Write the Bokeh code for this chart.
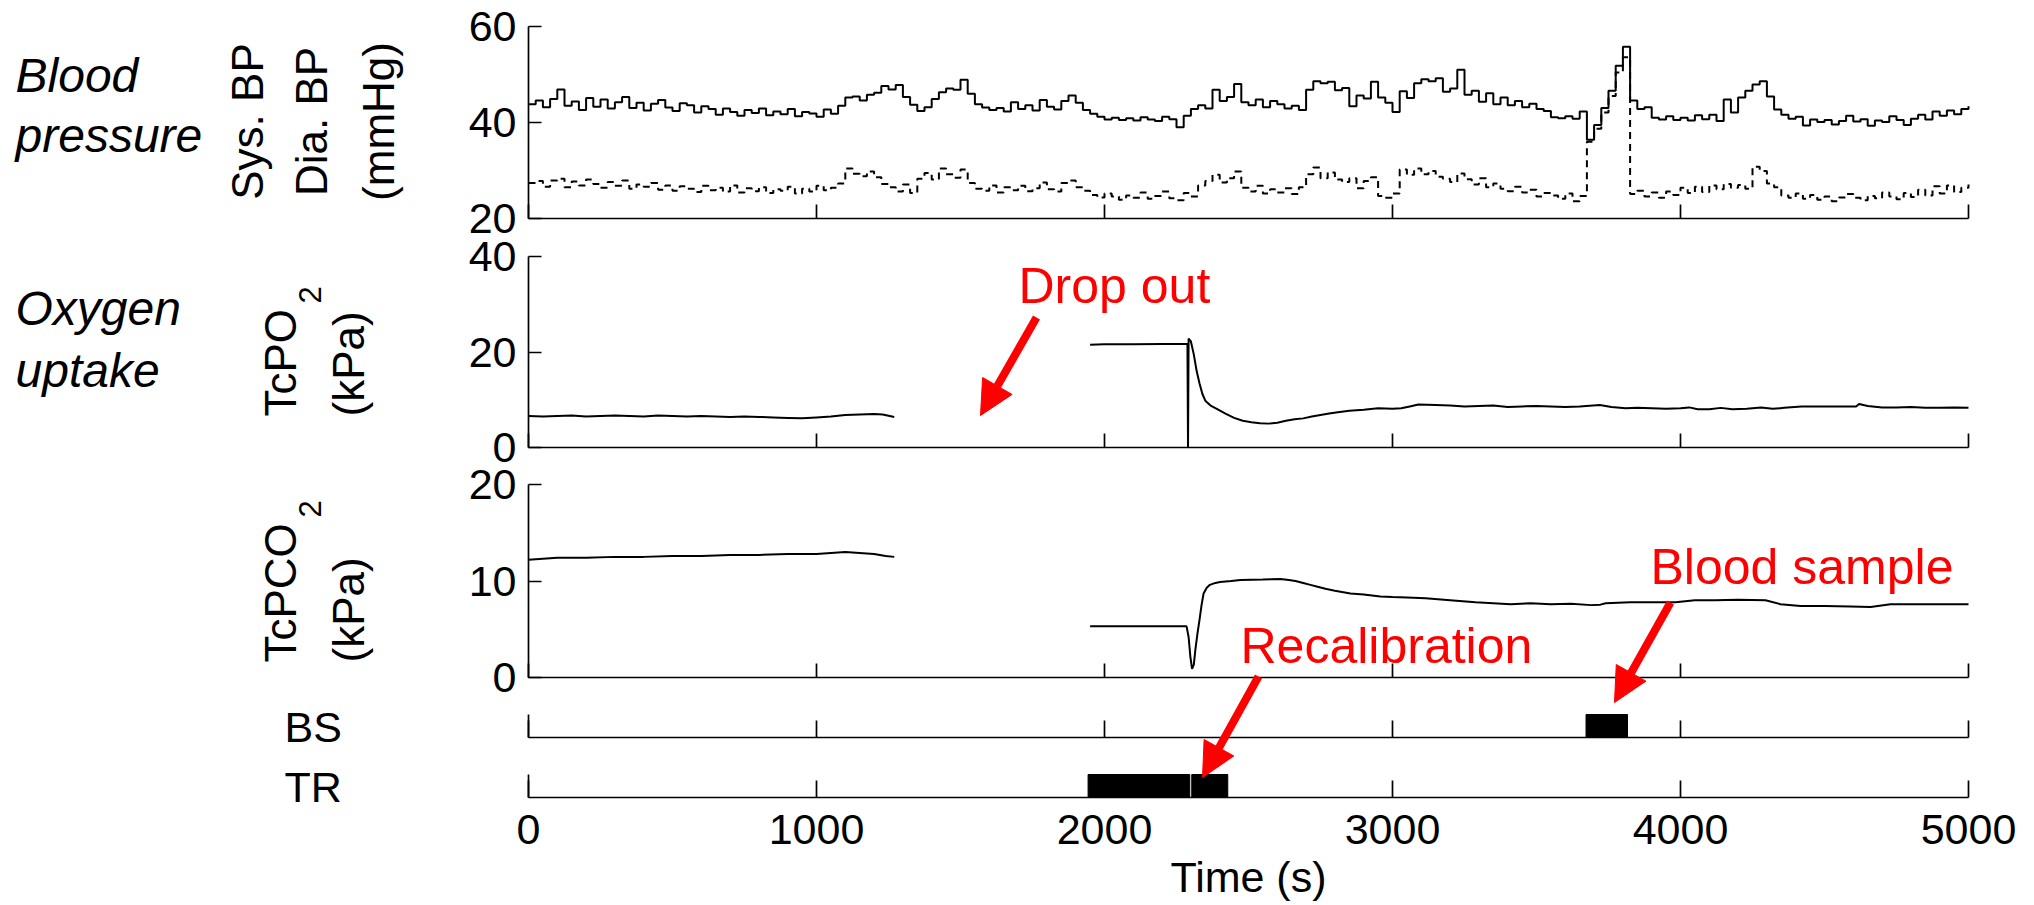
import numpy as np
from bokeh.plotting import figure
from bokeh.models import Range1d, LinearAxis, FixedTicker, Label, Arrow, NormalHead
from bokeh.embed import file_html
from bokeh.resources import INLINE

# ---------------- data ----------------
BP_T = list(range(0, 5001, 25))  # sampling times (s)
SYS_BP = [
    43.8, 44.6, 43.2, 44.9, 46.9, 43.5, 44.4, 42.6, 45.1, 43.3,
    44.8, 42.9, 44.2, 45.3, 43.0, 44.1, 42.5, 43.9, 44.7, 43.1,
    42.4, 44.0, 43.6, 42.1, 43.4, 42.8, 41.6, 42.9, 42.2, 41.4,
    42.6, 42.0, 42.9, 41.5, 42.3, 41.7, 42.8, 41.3, 42.2, 41.9,
    41.2, 42.7, 41.8, 43.5, 45.2, 45.4, 44.6, 45.8, 46.2, 47.6,
    46.9, 47.8, 45.3, 43.7, 42.4, 43.2, 44.9, 46.3, 47.1, 46.8,
    48.9, 46.0, 43.8, 43.1, 42.6, 43.0, 42.3, 44.2, 42.8, 43.6,
    42.5, 44.7, 43.3, 42.7, 44.5, 45.6, 44.1, 42.6, 41.8, 41.2,
    40.6, 41.0, 40.5, 40.9, 40.4, 41.1, 40.6, 40.3, 41.2, 40.7,
    39.0, 41.4, 42.8, 43.6, 42.9, 46.8, 44.5, 45.3, 48.0, 44.2,
    43.6, 44.8, 43.2, 44.5, 43.8, 42.9, 43.5, 42.6, 46.8, 48.6,
    48.2, 48.5, 46.7, 47.2, 43.4, 45.6, 45.0, 48.5, 45.2, 44.1,
    42.2, 46.5, 45.1, 48.2, 49.0, 48.6, 49.2, 46.4, 47.1, 51.0,
    45.8, 46.6, 44.3, 46.1, 43.8, 45.2, 43.6, 44.5, 43.2, 43.9,
    42.8, 42.4, 41.1, 40.9, 41.3, 40.8, 42.3, 36.4, 39.5, 43.0,
    46.6, 51.8, 55.8, 44.6, 42.8, 43.2, 41.0, 40.6, 41.3, 40.5,
    41.0, 40.4, 41.5, 40.7, 41.6, 40.3, 44.8, 42.1, 45.2, 46.6,
    47.9, 48.6, 45.4, 42.7, 41.6, 40.8, 41.2, 39.4, 40.6, 40.1,
    40.5, 39.6, 40.3, 41.4, 40.2, 40.7, 39.3, 40.4, 40.1, 41.3,
    40.5, 39.5, 40.8, 41.6, 40.6, 42.3, 41.4, 42.5, 41.7, 42.8,
    43.4]
DIA_BP = [
    27.4, 27.8, 26.6, 27.9, 28.3, 26.5, 27.7, 26.9, 28.1, 27.2,
    26.4, 27.6, 26.8, 27.9, 26.2, 27.1, 26.6, 27.4, 26.0, 26.9,
    25.8, 26.7, 26.2, 25.5, 26.8, 25.9, 26.4, 25.6, 26.9, 25.4,
    26.3, 25.7, 26.5, 25.3, 26.1, 25.8, 26.6, 25.2, 26.2, 25.6,
    26.8, 25.9, 26.4, 27.3, 30.4, 29.3, 28.8, 29.8, 28.6, 27.2,
    26.5, 25.6, 27.1, 25.3, 28.3, 29.5, 28.1, 30.4, 29.2, 28.5,
    30.2, 27.4, 26.2, 25.8, 26.9, 25.4, 26.5, 25.9, 26.8, 25.7,
    26.3, 27.5, 26.1, 25.6, 27.4, 27.9, 26.5, 25.8, 24.9, 24.4,
    25.2, 24.6, 23.9, 24.8, 24.3, 25.4, 24.1, 24.7, 25.6, 24.2,
    23.8, 25.3, 24.6, 26.9, 27.8, 29.1, 27.5, 28.4, 29.8, 26.4,
    25.6, 26.8, 25.2, 26.1, 25.4, 26.3, 25.1, 26.5, 29.2, 30.6,
    28.4, 29.6, 28.1, 27.6, 28.4, 26.3, 27.8, 28.6, 24.7, 24.3,
    25.2, 30.2, 29.1, 30.4, 29.2, 29.9, 28.7, 28.3, 27.6, 29.4,
    28.2, 27.1, 28.4, 26.5, 27.3, 26.2, 25.7, 26.6, 25.4, 26.0,
    24.6, 25.3, 24.8, 24.1, 25.2, 23.6, 24.7, 36.0, 38.7, 42.1,
    45.5, 50.4, 53.6, 25.1, 25.8, 24.6, 25.4, 24.3, 25.6, 24.9,
    26.4, 25.3, 26.6, 25.5, 26.9, 26.1, 27.2, 26.4, 27.0, 26.2,
    30.8, 29.9, 27.3, 26.5, 24.8, 24.3, 25.2, 24.1, 24.9, 23.9,
    24.6, 23.6, 24.4, 25.1, 24.3, 23.8, 24.7, 24.2, 25.4, 24.6,
    24.0, 25.3, 24.5, 26.0, 24.8, 26.7, 25.2, 26.9, 25.5, 26.4,
    27.1]

PO2_T1 = [0, 50, 100, 150, 200, 250, 300, 350, 400, 450, 500, 550, 600, 650,
          700, 750, 800, 850, 900, 950, 1000, 1050, 1100, 1150, 1200, 1230, 1270]
PO2_V1 = [6.6, 6.5, 6.6, 6.7, 6.5, 6.6, 6.7, 6.6, 6.5, 6.7, 6.6, 6.5, 6.6, 6.5,
          6.4, 6.5, 6.4, 6.3, 6.2, 6.1, 6.3, 6.5, 6.8, 6.9, 7.0, 6.9, 6.4]
PO2_T2 = [1950, 2000, 2100, 2200, 2280, 2288, 2290, 2292, 2300, 2310, 2320, 2330,
          2340, 2350, 2370, 2390, 2420, 2450, 2480, 2510, 2540, 2570, 2600, 2630,
          2660, 2690, 2720, 2750, 2780, 2810, 2850, 2900, 2950, 3000, 3030, 3060,
          3090, 3150, 3200, 3250, 3300, 3350, 3400, 3450, 3500, 3550, 3600, 3650,
          3720, 3760, 3810, 3850, 3900, 3950, 4000, 4030, 4060, 4100, 4140, 4180,
          4230, 4280, 4320, 4360, 4420, 4500, 4560, 4610, 4620, 4650, 4700, 4750,
          4800, 4850, 4900, 4950, 5000]
PO2_V2 = [21.5, 21.6, 21.6, 21.7, 21.7, 21.7, 0.0, 22.8, 22.2, 19.5, 16.0, 13.4,
          11.2, 9.8, 8.7, 8.1, 7.1, 6.2, 5.6, 5.3, 5.1, 5.0, 5.2, 5.6,
          5.9, 6.1, 6.5, 6.8, 7.1, 7.4, 7.7, 7.9, 8.2, 8.1, 8.2, 8.6,
          9.0, 8.9, 8.8, 8.6, 8.7, 8.8, 8.5, 8.6, 8.7, 8.6, 8.5, 8.6,
          8.9, 8.5, 8.2, 8.3, 8.2, 8.1, 8.2, 8.4, 8.0, 8.0, 8.3, 8.0,
          8.1, 8.4, 8.1, 8.3, 8.6, 8.6, 8.6, 8.6, 9.1, 8.7, 8.4, 8.4,
          8.5, 8.3, 8.3, 8.4, 8.3]

PCO2_T1 = [0, 50, 100, 200, 300, 400, 500, 600, 700, 800, 900, 1000, 1050,
           1100, 1150, 1200, 1240, 1270]
PCO2_V1 = [12.2, 12.3, 12.4, 12.4, 12.5, 12.5, 12.6, 12.6, 12.7, 12.7, 12.8, 12.8,
           12.9, 13.0, 12.9, 12.8, 12.6, 12.5]
PCO2_T2 = [1950, 2100, 2200, 2285, 2292, 2298, 2304, 2310, 2316, 2323, 2330, 2337,
           2344, 2355, 2366, 2385, 2401, 2440, 2472, 2550, 2611, 2640, 2663, 2690,
           2715, 2740, 2767, 2800, 2854, 2900, 2958, 3000, 3050, 3115, 3200, 3288,
           3350, 3410, 3480, 3549, 3620, 3690, 3722, 3740, 3826, 3900, 3983, 4050,
           4121, 4200, 4295, 4347, 4417, 4500, 4590, 4660, 4729, 4850, 5000]
PCO2_V2 = [5.3, 5.3, 5.3, 5.3, 4.2, 2.2, 0.9, 1.3, 3.0, 4.6, 6.0, 7.5,
           8.7, 9.3, 9.6, 9.8, 9.9, 10.0, 10.1, 10.15, 10.2, 10.1, 10.0, 9.8,
           9.6, 9.4, 9.2, 9.0, 8.7, 8.6, 8.4, 8.35, 8.3, 8.2, 8.0, 7.8,
           7.7, 7.6, 7.7, 7.6, 7.65, 7.5, 7.55, 7.7, 7.8, 7.8, 7.8, 8.0,
           8.0, 8.05, 8.0, 7.6, 7.4, 7.4, 7.35, 7.3, 7.6, 7.6, 7.6]

BS_START, BS_END = [3672], [3816]
TR_START, TR_END = [1943, 2303], [2296, 2428]

X_TICKS = [0, 1000, 2000, 3000, 4000, 5000]
BP_TICKS = [20, 40, 60]
PO2_TICKS = [0, 20, 40]
PCO2_TICKS = [0, 10, 20]

# ---------------- layout (page pixels) ----------------
W, H = 2030, 903
PX0, PY0 = 0, 0
AX_X0, AX_X1 = 528, 1968
sx = (AX_X1 - AX_X0) / 5000.0
x_start = 0 - (AX_X0 - PX0) / sx
x_end = 5000 + (PX0 + W - AX_X1) / sx


def yrange(v_top, y_top, v_bot, y_bot):
    s = (v_top - v_bot) / (y_bot - y_top)
    return Range1d(start=v_bot - (PY0 + H - y_bot) * s, end=v_top + (y_top - PY0) * s)


FONT = "Liberation Sans"

p = figure(width=W, height=H, x_range=Range1d(x_start, x_end),
           y_range=Range1d(PY0 + H, PY0), output_backend="svg",
           toolbar_location=None, x_axis_location=None, y_axis_location=None,
           min_border=0, min_border_left=0, min_border_right=0,
           min_border_top=0, min_border_bottom=0, outline_line_color=None)
p.xgrid.grid_line_color = None
p.ygrid.grid_line_color = None
p.background_fill_color = "white"

p.extra_x_ranges = {"px": Range1d(PX0, PX0 + W)}
p.extra_y_ranges = {
    "bp": yrange(60, 26, 20, 218),
    "po2": yrange(40, 256, 0, 447),
    "pco2": yrange(20, 484, 0, 677),
    "bs": yrange(1, 714, 0, 737),
    "tr": yrange(1, 774, 0, 797),
}

LW = 2.0
# traces
p.step(BP_T, SYS_BP, mode="after", y_range_name="bp", line_color="black", line_width=LW)
p.step(BP_T, DIA_BP, mode="after", y_range_name="bp", line_color="black", line_width=LW,
       line_dash="7 5")
p.line(PO2_T1, PO2_V1, y_range_name="po2", line_color="black", line_width=LW)
p.line(PO2_T2, PO2_V2, y_range_name="po2", line_color="black", line_width=LW)
p.line(PCO2_T1, PCO2_V1, y_range_name="pco2", line_color="black", line_width=LW)
p.line(PCO2_T2, PCO2_V2, y_range_name="pco2", line_color="black", line_width=LW)
p.quad(left=BS_START, right=BS_END, bottom=0, top=1, y_range_name="bs",
       fill_color="black", line_color="black")
p.quad(left=TR_START, right=TR_END, bottom=0, top=1, y_range_name="tr",
       fill_color="black", line_color="black")


def style_axis(ax, tick_in):
    ax.major_tick_in = tick_in
    ax.major_tick_out = 0
    ax.minor_tick_line_color = None
    ax.axis_line_width = 1.7
    ax.major_tick_line_width = 1.7
    ax.axis_line_color = "black"
    ax.major_tick_line_color = "black"
    ax.major_label_text_font = FONT
    ax.major_label_text_font_size = "43px"
    ax.major_label_text_color = "black"


# x axes (one per panel)
for name, loc, tin in [("bp", 20, 14), ("po2", 0, 14), ("pco2", 0, 14), ("bs", 0, 17)]:
    ax = LinearAxis(y_range_name=name, fixed_location=loc, bounds=(0, 5000),
                    ticker=FixedTicker(ticks=X_TICKS, minor_ticks=[]))
    style_axis(ax, tin)
    ax.major_label_text_color = None
    p.add_layout(ax, "below")

ax = LinearAxis(y_range_name="tr", fixed_location=0, bounds=(0, 5000),
                ticker=FixedTicker(ticks=X_TICKS, minor_ticks=[]),
                axis_label="Time (s)")
style_axis(ax, 17)
ax.major_label_standoff = 17
ax.axis_label_standoff = 6
ax.axis_label_text_font = FONT
ax.axis_label_text_font_size = "43px"
ax.axis_label_text_font_style = "normal"
ax.axis_label_text_color = "black"
p.add_layout(ax, "below")

# y axes
for name, lo, hi, ticks in [("bp", 20, 60, BP_TICKS), ("po2", 0, 40, PO2_TICKS),
                            ("pco2", 0, 20, PCO2_TICKS), ("bs", 0, 1, []), ("tr", 0, 1, [])]:
    ay = LinearAxis(y_range_name=name, fixed_location=0, bounds=(lo, hi),
                    ticker=FixedTicker(ticks=ticks, minor_ticks=[]))
    style_axis(ay, 13)
    ay.major_label_standoff = 12
    p.add_layout(ay, "left")


def lab(text, x, y, size, style="normal", color="black", angle=0.0, align="left"):
    p.add_layout(Label(x=x, y=y, x_range_name="px", text=text, text_font=FONT,
                       text_font_size=f"{size}px", text_font_style=style,
                       text_color=color, angle=angle, text_align=align,
                       text_baseline="middle"))


ROT = np.pi / 2
# row titles (anchor = vertical centre of the text)
lab("Blood", 15, 75, 48, "italic")
lab("pressure", 15, 135, 48, "italic")
lab("Oxygen", 15, 308, 48, "italic")
lab("uptake", 15, 370, 48, "italic")
# rotated y labels
lab("Sys. BP", 247, 121, 44, angle=ROT, align="center")
lab("Dia. BP", 311, 121, 44, angle=ROT, align="center")
lab("(mmHg)", 378, 121, 44, angle=ROT, align="center")
lab("TcPO", 280, 416, 44, angle=ROT)
lab("2", 309, 303, 31, angle=ROT)
lab("(kPa)", 348, 416, 44, angle=ROT)
lab("TcPCO", 280, 662, 44, angle=ROT)
lab("2", 309, 517, 31, angle=ROT)
lab("(kPa)", 348, 662, 44, angle=ROT)
lab("BS", 284, 726, 43)
lab("TR", 284, 786, 43)

# red annotations
lab("Drop out", 1018, 285, 50, color="red")
lab("Recalibration", 1240, 645, 50, color="red")
lab("Blood sample", 1650, 566, 50, color="red")

for (x0, y0, x1, y1) in [(1036, 317, 980, 415), (1258, 676, 1202, 777), (1670, 602, 1614, 702)]:
    p.add_layout(Arrow(end=NormalHead(size=34, fill_color="red", line_color="red"),
                       x_start=x0, y_start=y0, x_end=x1, y_end=y1,
                       x_range_name="px", line_color="red", line_width=8))

open("out.html", "w").write(file_html(p, INLINE))
